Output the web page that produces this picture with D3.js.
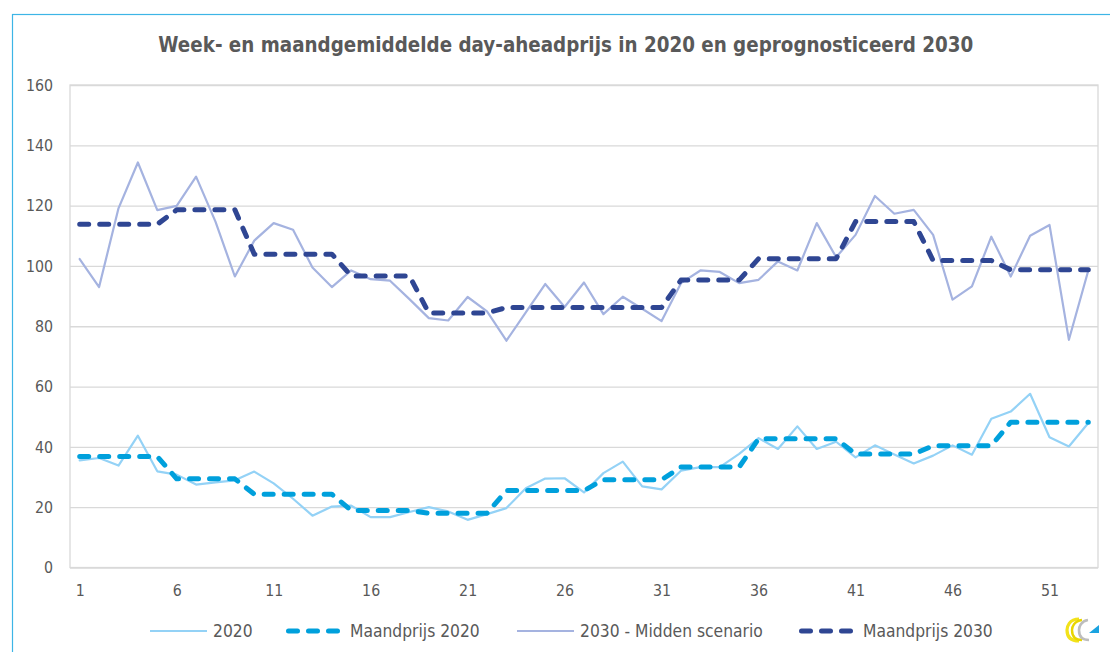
<!DOCTYPE html>
<html>
<head>
<meta charset="utf-8">
<script src="https://cdn.jsdelivr.net/npm/d3@7"></script>
<style>
  html, body { margin: 0; padding: 0; background: #ffffff; }
  svg { display: block; }
</style>
</head>
<body>
<script>
// ---------------- DATA ----------------
const weeks = [1,2,3,4,5,6,7,8,9,10,11,12,13,14,15,16,17,18,19,20,21,22,23,24,25,26,27,28,29,30,31,32,33,34,35,36,37,38,39,40,41,42,43,44,45,46,47,48,49,50,51,52,53];
const xTickLabels = [1,6,11,16,21,26,31,36,41,46,51];
const yTicks = [0,20,40,60,80,100,120,140,160];

const price2020 = [35.5,36.3,33.8,43.7,31.9,30.8,27.5,28.2,28.9,31.8,
                   27.9,22.8,17.2,20.2,20.5,16.7,16.7,18.4,20.0,18.6,
                   15.8,17.7,19.7,26.3,29.5,29.6,24.9,31.3,35.1,26.9,
                   25.9,32.1,33.3,33.3,37.7,42.9,39.3,46.8,39.3,41.7,
                   36.5,40.5,37.5,34.5,37.1,40.5,37.4,49.3,51.7,57.6,
                   43.2,40.1,47.9];
const month2020 = [36.8,36.8,36.8,36.8,36.8,29.4,29.4,29.4,29.4,24.3,
                   24.3,24.3,24.3,24.3,18.9,18.9,18.9,18.9,18.0,18.0,
                   18.0,18.0,25.5,25.5,25.5,25.5,25.5,29.1,29.1,29.1,
                   29.1,33.3,33.3,33.3,33.3,42.7,42.7,42.7,42.7,42.7,
                   37.6,37.6,37.6,37.6,40.4,40.4,40.4,40.4,48.2,48.2,
                   48.2,48.2,48.2];
const price2030 = [102.3,93.0,119.1,134.3,118.5,119.9,129.6,114.7,96.5,108.4,
                   114.2,112.0,99.5,93.0,98.5,95.6,95.1,89.0,82.7,81.9,
                   89.7,84.9,75.2,84.6,94.0,86.4,94.5,84.0,89.8,85.8,
                   81.7,94.3,98.5,98.0,94.3,95.4,101.5,98.5,114.2,102.9,
                   110.3,123.2,117.3,118.6,110.3,88.8,93.2,109.7,96.5,110.0,
                   113.6,75.5,98.5];
const month2030 = [113.8,113.8,113.8,113.8,113.8,118.6,118.6,118.6,118.6,103.9,
                   103.9,103.9,103.9,103.9,96.7,96.7,96.7,96.7,84.4,84.4,
                   84.4,84.4,86.2,86.2,86.2,86.2,86.2,86.2,86.2,86.2,
                   86.2,95.3,95.3,95.3,95.3,102.4,102.4,102.4,102.4,102.4,
                   114.7,114.7,114.7,114.7,101.8,101.8,101.8,101.8,98.7,98.7,
                   98.7,98.7,98.7];

const seriesNames = ["2020","Maandprijs 2020","2030 - Midden scenario","Maandprijs 2030"];
const titleText = "Week- en maandgemiddelde day-aheadprijs in 2020 en geprognosticeerd 2030";

// ---------------- STYLE / LAYOUT ----------------
const W = 1110, H = 652;
const plot = { left: 70, right: 1098, top: 85, bottom: 567.5 };
const textColor = "#595959";
const gridColor = "#d9d9d9";
const font = "'DejaVu Sans', Verdana, sans-serif";
const condenseTicks = 0.86;
const condenseLegend = 0.915;

const styles = [
  { color: "#94d2f6", width: 2.2, dash: null },
  { color: "#00a0dc", width: 5,   dash: "9,11" },
  { color: "#a5b3e0", width: 2.2, dash: null },
  { color: "#2f4693", width: 5,   dash: "9,11" }
];
const seriesData = [price2020, month2020, price2030, month2030];

const svg = d3.select("body").append("svg")
  .attr("width", W).attr("height", H)
  .attr("viewBox", `0 0 ${W} ${H}`);

svg.append("rect").attr("width", W).attr("height", H).attr("fill", "#fff");

// outer chart border (light blue)
svg.append("rect")
  .attr("x", 12.5).attr("y", 14.5)
  .attr("width", W + 20).attr("height", H + 20)
  .attr("fill", "none").attr("stroke", "#3db5e6").attr("stroke-width", 1.2);

function squeeze(sel, k) {
  sel.each(function() {
    const len = this.getComputedTextLength();
    d3.select(this).attr("textLength", len * k).attr("lengthAdjust", "spacingAndGlyphs");
  });
}

// title
const title = svg.append("text")
  .attr("x", 565.8).attr("y", 52)
  .attr("text-anchor", "middle")
  .attr("font-family", font).attr("font-weight", "bold")
  .attr("font-size", 20.5).attr("fill", textColor)
  .text(titleText);
title.attr("textLength", 815).attr("lengthAdjust", "spacingAndGlyphs");

// scales
const x = d3.scalePoint().domain(weeks).range([plot.left, plot.right]).padding(0.5);
const y = d3.scaleLinear().domain([0, 160]).range([plot.bottom, plot.top]);

// y axis + gridlines
const yAxis = svg.append("g")
  .attr("transform", `translate(${plot.left},0)`)
  .call(d3.axisLeft(y).tickValues(yTicks).tickSize(-(plot.right - plot.left)).tickPadding(17));
yAxis.select(".domain").remove();
yAxis.selectAll(".tick line").attr("stroke", gridColor).attr("stroke-width", 1.3);
yAxis.selectAll(".tick text")
  .attr("font-family", font).attr("font-size", 16.5).attr("fill", textColor)
  .call(squeeze, condenseTicks);

// plot border
svg.append("rect")
  .attr("x", plot.left).attr("y", plot.top)
  .attr("width", plot.right - plot.left).attr("height", plot.bottom - plot.top)
  .attr("fill", "none").attr("stroke", gridColor).attr("stroke-width", 1.3);

// x axis
const xAxis = svg.append("g")
  .attr("transform", `translate(0,${plot.bottom})`)
  .call(d3.axisBottom(x).tickValues(xTickLabels).tickSize(0).tickPadding(17));
xAxis.select(".domain").remove();
xAxis.selectAll(".tick text")
  .attr("font-family", font).attr("font-size", 16.5).attr("fill", textColor)
  .call(squeeze, condenseTicks);

// series lines
const line = d3.line()
  .x((d, i) => x(weeks[i]))
  .y(d => y(d));

seriesData.forEach((vals, si) => {
  const st = styles[si];
  const p = svg.append("path")
    .datum(vals)
    .attr("d", line)
    .attr("fill", "none")
    .attr("stroke", st.color)
    .attr("stroke-width", st.width)
    .attr("stroke-linejoin", "round")
    .attr("stroke-linecap", "round");
  if (st.dash) p.attr("stroke-dasharray", st.dash);
});

// legend
const legendY = 631;
const legendItems = [
  { x0: 150, x1: 207, tx: 213 },
  { x0: 288.5, x1: 337.5, tx: 350 },
  { x0: 517, x1: 574, tx: 580 },
  { x0: 801.5, x1: 850.5, tx: 863 }
];
legendItems.forEach((it, i) => {
  const st = styles[i];
  const l = svg.append("line")
    .attr("x1", it.x0).attr("x2", it.x1)
    .attr("y1", legendY).attr("y2", legendY)
    .attr("stroke", st.color).attr("stroke-width", st.width)
    .attr("stroke-linecap", st.dash ? "round" : "butt");
  if (st.dash) l.attr("stroke-dasharray", st.dash);
  svg.append("text")
    .attr("x", it.tx).attr("y", legendY + 6)
    .attr("font-family", font).attr("font-size", 17).attr("fill", textColor)
    .text(seriesNames[i])
    .call(squeeze, condenseLegend);
});

// small logo (bottom right)
const logo = svg.append("g").attr("transform", "translate(1066,618)");
logo.append("path")
  .attr("d", "M13,1 C3,1 1,9 1,12 C1,18 4,23 13,23")
  .attr("fill", "none").attr("stroke", "#f2e21a").attr("stroke-width", 3.2);
logo.append("path")
  .attr("d", "M16,2 C8,3 6,9 6,12 C6,18 9,22 16,22")
  .attr("fill", "none").attr("stroke", "#e8d500").attr("stroke-width", 2.4);
logo.append("path")
  .attr("d", "M22,2 C15,3 13,9 13,12 C13,18 16,22 23,22")
  .attr("fill", "none").attr("stroke", "#bdbdbd").attr("stroke-width", 2.6);
logo.append("path")
  .attr("d", "M23,15 L33,15 L33,7 Z")
  .attr("fill", "#1aa3e0");
</script>
</body>
</html>
